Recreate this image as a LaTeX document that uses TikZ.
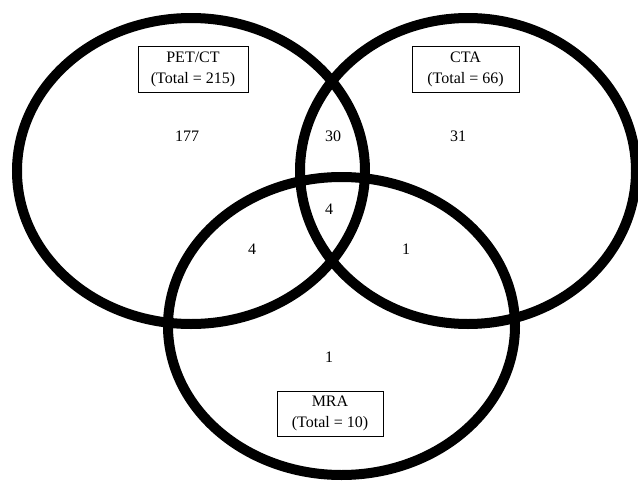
\documentclass[tikz,border=0pt]{standalone}
\usepackage{fontspec}
\setmainfont{Liberation Serif}
\begin{document}
\begin{tikzpicture}[x=1pt,y=-1pt,
        setring/.style={draw=black,line width=10pt},
        setbox/.style={draw=black,line width=0.8pt,fill=white,inner sep=0pt,
            minimum width=107pt,minimum height=46pt,align=center,
            font=\fontsize{16}{21}\selectfont},
        count/.style={inner sep=0pt,font=\fontsize{16}{19}\selectfont}]
        \useasboundingbox (0,0) rectangle (638,482);

        \coordinate (petc) at (191,171); % PET/CT
        \coordinate (ctac) at (468,171); % CTA
        \coordinate (mrac) at (341.5,326); % MRA

        \draw[setring] (petc) ellipse [x radius=174pt, y radius=153pt];
        \draw[setring] (ctac) ellipse [x radius=168pt, y radius=153pt];
        \draw[setring] (mrac) ellipse [x radius=173.5pt, y radius=149pt];

        \node[setbox,minimum width=110pt] (petbox) at (193,69.5) {PET/CT \\ (Total = 215)};
        \node[setbox] (ctabox) at (465.5,69.5) {CTA \\ (Total = 66)};
        \node[setbox,minimum width=106pt,minimum height=45pt] (mrabox) at (330,413.5) {MRA \\ (Total = 10)};

        \node[count] (petonly) at (187,136) {177};
        \node[count] (petcta) at (333,136) {30};
        \node[count] (ctaonly) at (458,136) {31};
        \node[count] (allthree) at (329,209) {4};
        \node[count] (petmra) at (252,249) {4};
        \node[count] (ctamra) at (406,249) {1};
        \node[count] (mraonly) at (329,357) {1};
    \end{tikzpicture}
\end{document}
